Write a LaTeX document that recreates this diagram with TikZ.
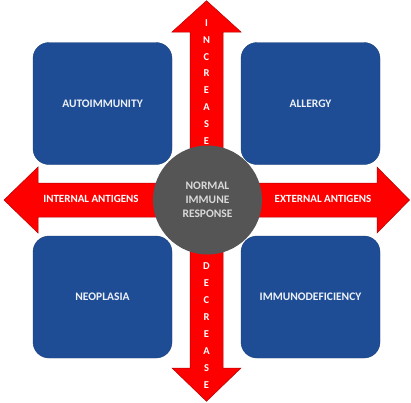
\documentclass[tikz,border=0pt]{standalone}
\usepackage{fontspec}
\setmainfont{Carlito}
\definecolor{quadblue}{RGB}{30,77,150}
\definecolor{hubgray}{RGB}{85,85,85}
\definecolor{arrowred}{RGB}{255,0,0}

\begin{document}
\begin{tikzpicture}[
    x=1pt, y=-1pt,
    every node/.style={text=white, font=\bfseries\fontsize{11.5}{14}\selectfont},
    quad/.style={draw=quadblue!80!black, fill=quadblue, rounded corners=16pt,
        minimum width=139pt, minimum height=122pt, inner sep=0pt,
        text=white!92!quadblue},
    hub/.style={circle, fill=hubgray, minimum size=109pt, inner sep=0pt,
        align=center, text=white!85!black},
    bigarrow/.style={fill=arrowred, draw=red!70!black, line width=0.5pt},
    tag/.style={font=\bfseries\fontsize{11}{13}\selectfont},
    letter/.style={inner sep=0pt, font=\bfseries\fontsize{10.5}{12}\selectfont}
]
\useasboundingbox (0,0) rectangle (411,402);

% the four quadrants
\node[quad] (auto) at (102.5,103.5) {AUTOIMMUNITY};
\node[quad] (allergy) at (310.5,103.5) {ALLERGY};
\node[quad] (neo) at (102.5,297) {NEOPLASIA};
\node[quad] (immuno) at (310.5,297) {IMMUNODEFICIENCY};

% arrows out of the centre
\draw[bigarrow] (190,200) -- (190,32) -- (172,32) -- (206.5,0.7) -- (241,32)
    -- (223,32) -- (223,200) -- cycle;
\draw[bigarrow] (190,200) -- (190,368) -- (172,368) -- (206.5,401.3) -- (241,368)
    -- (223,368) -- (223,200) -- cycle;
\draw[bigarrow] (206,183) -- (38,183) -- (38,167) -- (4,200) -- (38,233)
    -- (38,217) -- (206,217) -- cycle;
\draw[bigarrow] (206,183) -- (377,183) -- (377,167) -- (409.5,200) -- (377,233)
    -- (377,217) -- (206,217) -- cycle;

\node[tag] (inner) at (91,199) {INTERNAL ANTIGENS};
\node[tag] (outer) at (323,199) {EXTERNAL ANTIGENS};

% stacked letters
\foreach \ch [count=\i from 0] in {I,N,C,R,E,A,S,E}
    \node[letter] (up\i) at (206.5,23+16.8*\i) {\ch};
\foreach \ch [count=\i from 0] in {D,E,C,R,E,A,S,E}
    \node[letter] (down\i) at (206.5,266+17*\i) {\ch};

\node[hub] (normal) at (207.5,200) {NORMAL\\IMMUNE\\RESPONSE};
\end{tikzpicture}
\end{document}
